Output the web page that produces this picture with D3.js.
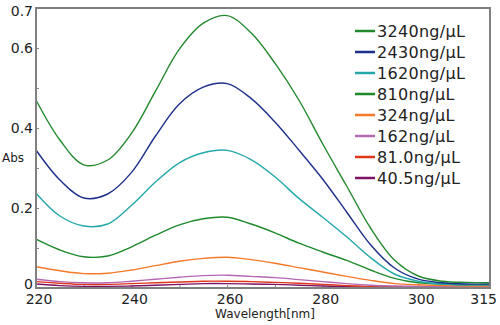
<!DOCTYPE html>
<html>
<head>
<meta charset="utf-8">
<script src="https://cdn.jsdelivr.net/npm/d3@7"></script>
<style>
  body { margin: 0; background: #fff; }
  text { font-family: "DejaVu Sans", "Liberation Sans", sans-serif; fill: #222; }
</style>
</head>
<body>
<div id="chart"></div>
<script>
const wavelengths = [220, 225, 230, 235, 240, 245, 250, 255, 260, 265, 270, 275, 280, 285, 290, 295, 300, 305, 310, 315];

const labels = ["3240ng/μL", "2430ng/μL", "1620ng/μL", "810ng/μL", "324ng/μL", "162ng/μL", "81.0ng/μL", "40.5ng/μL"];
const colors = ["#23892e", "#1c2f8a", "#24a8aa", "#1f8a2c", "#f47a2a", "#b468b4", "#e2361a", "#7e1466"];

const abs3240 = [0.47, 0.37, 0.308, 0.32, 0.387, 0.492, 0.597, 0.662, 0.681, 0.638, 0.562, 0.47, 0.36, 0.255, 0.15, 0.07, 0.03, 0.017, 0.014, 0.013];
const abs2430 = [0.345, 0.27, 0.225, 0.235, 0.289, 0.38, 0.46, 0.502, 0.511, 0.474, 0.415, 0.345, 0.272, 0.19, 0.108, 0.05, 0.022, 0.013, 0.01, 0.01];
const abs1620 = [0.237, 0.18, 0.155, 0.16, 0.207, 0.265, 0.313, 0.338, 0.344, 0.321, 0.278, 0.224, 0.177, 0.128, 0.076, 0.035, 0.017, 0.01, 0.008, 0.008];
const abs810 = [0.122, 0.095, 0.078, 0.08, 0.103, 0.132, 0.158, 0.173, 0.177, 0.16, 0.138, 0.112, 0.09, 0.069, 0.045, 0.024, 0.013, 0.01, 0.008, 0.008];
const abs324 = [0.053, 0.043, 0.036, 0.037, 0.045, 0.056, 0.067, 0.074, 0.077, 0.071, 0.062, 0.051, 0.04, 0.029, 0.019, 0.011, 0.008, 0.006, 0.005, 0.005];
const abs162 = [0.022, 0.016, 0.013, 0.013, 0.017, 0.022, 0.027, 0.031, 0.032, 0.029, 0.026, 0.021, 0.016, 0.011, 0.007, 0.005, 0.004, 0.003, 0.003, 0.003];
const abs81 = [0.016, 0.012, 0.009, 0.009, 0.011, 0.013, 0.015, 0.017, 0.017, 0.016, 0.014, 0.012, 0.009, 0.006, 0.004, 0.003, 0.002, 0.002, 0.002, 0.002];
const abs40 = [0.01, 0.006, 0.004, 0.004, 0.005, 0.007, 0.009, 0.011, 0.011, 0.01, 0.009, 0.007, 0.005, 0.003, 0.002, 0.001, 0.001, 0.001, 0.001, 0.001];

const series = [abs3240, abs2430, abs1620, abs810, abs324, abs162, abs81, abs40];

const xTicks = [220, 230, 240, 250, 260, 270, 280, 290, 300, 310];
const xTickLabels = [220, 240, 260, 280, 300, 315];
const yTicks = [0, 0.1, 0.2, 0.3, 0.4, 0.5, 0.6, 0.7];
const yTickLabels = [0, 0.2, 0.4, 0.6, 0.7];

const width = 500;
const height = 325;
const margin = { top: 8, right: 10, bottom: 37, left: 36 };

const svg = d3.select("#chart").append("svg")
  .attr("width", width)
  .attr("height", height);

const x = d3.scaleLinear().domain([220, 315]).range([margin.left, width - margin.right]);
const y = d3.scaleLinear().domain([0, 0.7]).range([height - margin.bottom, margin.top]);

// inward ticks, no labels
svg.append("g")
  .attr("transform", `translate(0,${height - margin.bottom})`)
  .call(d3.axisTop(x).tickValues(xTicks).tickSize(3).tickFormat(""))
  .call(g => g.select(".domain").remove())
  .call(g => g.selectAll("line").attr("stroke", "#888"));

svg.append("g")
  .attr("transform", `translate(${margin.left},0)`)
  .call(d3.axisRight(y).tickValues(yTicks).tickSize(3).tickFormat(""))
  .call(g => g.select(".domain").remove())
  .call(g => g.selectAll("line").attr("stroke", "#888"));

// tick labels
svg.append("g").selectAll("text")
  .data(xTickLabels)
  .join("text")
  .attr("x", d => x(d))
  .attr("y", height - margin.bottom + 16)
  .attr("text-anchor", d => d === 315 ? "end" : "middle")
  .attr("dx", d => d === 315 ? 7 : 3)
  .attr("font-size", 14)
  .text(d => d);

svg.append("g").selectAll("text")
  .data(yTickLabels)
  .join("text")
  .attr("x", margin.left - 3)
  .attr("y", d => y(d))
  .attr("dy", d => d === 0.7 ? "0.6em" : (d === 0 ? "0.1em" : "0.35em"))
  .attr("text-anchor", "end")
  .attr("font-size", 14)
  .text(d => d === 0 ? "0" : d3.format(".1f")(d));

svg.append("text")
  .attr("x", 2)
  .attr("y", 162)
  .attr("font-size", 12)
  .text("Abs");

svg.append("text")
  .attr("x", (x(220) + x(315)) / 2 + 2)
  .attr("y", 318)
  .attr("text-anchor", "middle")
  .attr("font-size", 12)
  .text("Wavelength[nm]");

// curves
const line = d3.line()
  .x((d, i) => x(wavelengths[i]))
  .y(d => y(d))
  .curve(d3.curveCatmullRom.alpha(0.5));

const plot = svg.append("g");
plot.selectAll("path")
  .data(series.slice().reverse())
  .join("path")
  .attr("d", line)
  .attr("fill", "none")
  .attr("stroke", (d, i) => colors[series.length - 1 - i])
  .attr("stroke-width", 1.4);

// frame
svg.append("rect")
  .attr("x", x(220))
  .attr("y", y(0.7))
  .attr("width", x(315) - x(220))
  .attr("height", y(0) - y(0.7))
  .attr("fill", "none")
  .attr("stroke", "#808080")
  .attr("stroke-width", 2);

// legend
const legend = svg.append("g").attr("transform", "translate(355,31)");
const rows = legend.selectAll("g")
  .data(labels)
  .join("g")
  .attr("transform", (d, i) => `translate(0,${i * 21})`);
rows.append("line")
  .attr("x1", 0).attr("x2", 20)
  .attr("stroke", (d, i) => colors[i])
  .attr("stroke-width", 2.5);
rows.append("text")
  .attr("x", 22)
  .attr("dy", "0.36em")
  .attr("font-size", 16)
  .attr("letter-spacing", 0.3)
  .text(d => d);
</script>
</body>
</html>
